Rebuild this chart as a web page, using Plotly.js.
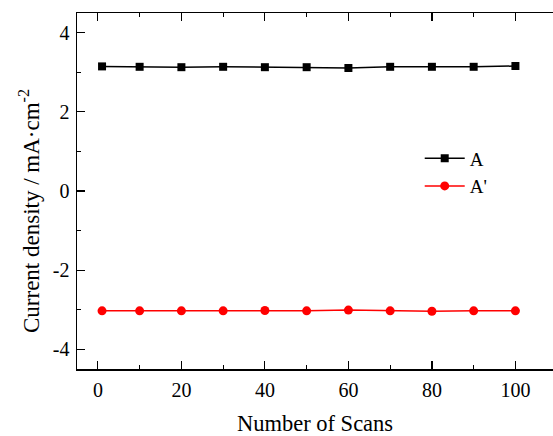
<!DOCTYPE html>
<html><head><meta charset="utf-8">
<script src="https://cdn.plot.ly/plotly-3.0.1.min.js"></script>
<style>body{margin:0;background:#fff}#c{width:553px;height:436px}</style>
</head><body><div id="c"></div>
<script>
const scans = [1, 10, 20, 30, 40, 50, 60, 70, 80, 90, 100];
const seriesA = [3.15, 3.14, 3.13, 3.14, 3.13, 3.13, 3.11, 3.14, 3.14, 3.14, 3.16];
const seriesAprime = [-3.03, -3.03, -3.03, -3.03, -3.02, -3.03, -3.01, -3.03, -3.04, -3.03, -3.03];
const xTicks = [0, 20, 40, 60, 80, 100];
const yTicks = [-4, -2, 0, 2, 4];
const xTitle = 'Number of Scans';
const yTitle = 'Current density / mA·cm<sup>-2</sup>';

const fam = 'Liberation Serif';
const tickFont = {family: fam, size: 20, color: '#000'};
const traces = [
  {x: scans, y: seriesA, name: 'A', mode: 'lines+markers', type: 'scatter',
   line: {color: '#000', width: 1.5}, marker: {symbol: 'square', size: 8, color: '#000'}},
  {x: scans, y: seriesAprime, name: "A'", mode: 'lines+markers', type: 'scatter',
   line: {color: '#ff0000', width: 1.5}, marker: {symbol: 'circle', size: 9, color: '#ff0000'}}
];
const layout = {
  width: 553, height: 436,
  margin: {l: 77, r: 0, t: 13, b: 67},
  paper_bgcolor: '#fff', plot_bgcolor: '#fff',
  font: tickFont,
  showlegend: true,
  legend: {x: 0.72, y: 0.645, xanchor: 'left', yanchor: 'top', font: {family: fam, size: 19, color: '#000'}, bgcolor: 'rgba(0,0,0,0)', itemwidth: 40},
  xaxis: {range: [-5, 109], tickmode: 'array', tickvals: xTicks, ticktext: xTicks.map(String),
    ticks: 'inside', ticklen: 8, tickwidth: 1.2, tickcolor: '#000', ticklabelstandoff: 2,
    minor: {dtick: 10, tick0: 0, ticks: 'inside', ticklen: 4, tickcolor: '#000', tickwidth: 1.2},
    showline: true, linecolor: '#000', linewidth: 1.5, mirror: 'ticks', showgrid: false, zeroline: false,
    title: {text: xTitle, font: {family: fam, size: 22.5, color: '#000'}, standoff: 17},
    tickfont: tickFont},
  yaxis: {range: [-4.5, 4.5], tickmode: 'array', tickvals: yTicks, ticktext: yTicks.map(String),
    ticks: 'inside', ticklen: 8, tickwidth: 1.2, tickcolor: '#000', ticklabelstandoff: 2,
    minor: {dtick: 1, tick0: 0, ticks: 'inside', ticklen: 4, tickcolor: '#000', tickwidth: 1.2},
    showline: true, linecolor: '#000', linewidth: 1.5, mirror: false, showgrid: false, zeroline: false,
    tickfont: tickFont},
  annotations: [{text: yTitle, textangle: -90, xref: 'paper', yref: 'paper',
    x: (29 - 77) / 476, y: 1 - (211 - 13) / 356, xanchor: 'center', yanchor: 'middle',
    showarrow: false, font: {family: fam, size: 23, color: '#000'}}]
};
Plotly.newPlot('c', traces, layout, {staticPlot: true, displayModeBar: false});
</script></body></html>
